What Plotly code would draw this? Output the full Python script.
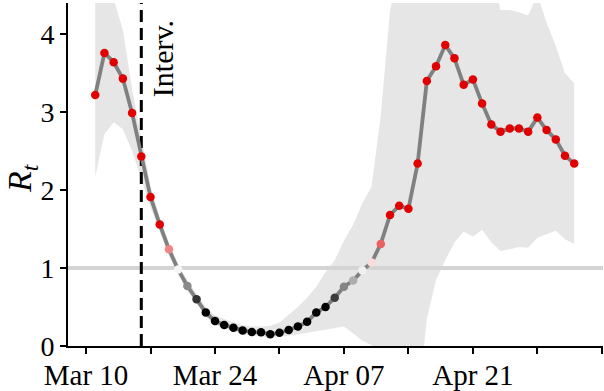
import plotly.graph_objects as go
import pandas as pd

dates = pd.date_range("2020-03-11", "2020-05-02", freq="D")

rt = [3.22, 3.76, 3.64, 3.43, 2.99, 2.43, 1.91, 1.56, 1.24, 0.98,
      0.77, 0.60, 0.43, 0.32, 0.27, 0.235, 0.20, 0.18, 0.175, 0.15,
      0.17, 0.205, 0.25, 0.31, 0.43, 0.50, 0.62, 0.76, 0.84, 0.97,
      1.07, 1.31, 1.68, 1.80, 1.76, 2.34, 3.40, 3.59, 3.86, 3.69,
      3.35, 3.42, 3.11, 2.84, 2.75, 2.79, 2.79, 2.75, 2.93, 2.77,
      2.65, 2.44, 2.34]

rt_upper = [4.8, 5.0, 4.45, 4.05, 3.3, 2.65, 2.05, 1.65, 1.32, 1.05,
            0.84, 0.67, 0.50, 0.39, 0.34, 0.30, 0.27, 0.25, 0.25, 0.26,
            0.30, 0.40, 0.50, 0.62, 0.76, 0.95, 1.10, 1.35, 1.56, 1.83,
            2.05, 2.96, 4.3, 4.8, 4.8, 4.8, 4.8, 4.8, 4.8, 4.8,
            4.8, 4.8, 4.8, 4.8, 4.31, 4.31, 4.28, 4.24, 4.5, 4.15,
            3.85, 3.5, 3.37]

rt_lower = [2.17, 2.72, 2.87, 2.78, 2.5, 2.15, 1.78, 1.46, 1.16, 0.92,
            0.71, 0.54, 0.38, 0.27, 0.22, 0.19, 0.15, 0.13, 0.12, 0.11,
            0.12, 0.13, 0.15, 0.17, 0.19, 0.21, 0.23, 0.25, 0.16, 0.07,
            0.01, -0.2, -0.4, -0.6, -0.7, -0.8, 0.35, 0.85, 1.1, 1.33,
            1.47, 1.40, 1.49, 1.33, 1.22, 1.24, 1.27, 1.26, 1.39, 1.44,
            1.48, 1.37, 1.31]

intervention_date = "2020-03-16"
intervention_label = "Interv."

label_dates = ["2020-03-10", "2020-03-24", "2020-04-07", "2020-04-21"]
label_texts = ["Mar 10", "Mar 24", "Apr 07", "Apr 21"]
minor_tick_dates = pd.date_range("2020-03-10", "2020-05-05", freq="7D")

x_range = ["2020-03-08 01:00", "2020-05-05 03:00"]
y_range = [0, 4.4]
y_ticks = [0, 1, 2, 3, 4]

SERIF = "Liberation Serif, Times New Roman, serif"

fig = go.Figure()

# credible interval band
fig.add_trace(go.Scatter(x=dates, y=rt_lower, mode="lines", line=dict(width=0),
                         hoverinfo="skip", showlegend=False))
fig.add_trace(go.Scatter(x=dates, y=rt_upper, mode="lines", line=dict(width=0),
                         fill="tonexty", fillcolor="#e6e6e6",
                         hoverinfo="skip", showlegend=False))

# reference line at R=1
fig.add_trace(go.Scatter(x=x_range, y=[1, 1], mode="lines",
                         line=dict(color="#d4d4d4", width=4),
                         hoverinfo="skip", showlegend=False))

# intervention line
fig.add_trace(go.Scatter(x=[intervention_date, intervention_date], y=y_range,
                         mode="lines",
                         line=dict(color="black", width=3, dash="12px,6px"),
                         hoverinfo="skip", showlegend=False))

# Rt line
fig.add_trace(go.Scatter(x=dates, y=rt, mode="lines",
                         line=dict(color="#808080", width=3.8),
                         showlegend=False))

# Rt points colored by value
fig.add_trace(go.Scatter(x=dates, y=rt, mode="markers",
                         marker=dict(size=8.5, color=rt, cmin=0.5, cmax=1.5,
                                     colorscale=[[0, "#000000"], [0.5, "#ffffff"], [1, "#e00000"]],
                                     line=dict(width=0)),
                         showlegend=False))

fig.add_annotation(x="2020-03-18 08:00", y=3.69, text=intervention_label,
                   textangle=-90, showarrow=False, xanchor="center", yanchor="middle",
                   font=dict(family=SERIF, size=30, color="black"))

fig.add_annotation(xref="paper", yref="paper", x=(22 - 68) / 535, y=(346 - 178) / 343,
                   text="<i>R</i><sub><i>t</i></sub>", textangle=-90, showarrow=False,
                   xanchor="center", yanchor="middle",
                   font=dict(family=SERIF, size=34, color="black"))

axis_common = dict(showgrid=False, zeroline=False, showline=True, linecolor="black",
                   linewidth=1.8, ticks="outside", ticklen=6, tickwidth=1.6,
                   tickcolor="black")

fig.update_layout(
    width=604, height=391,
    margin=dict(l=68, r=1, t=3, b=45),
    plot_bgcolor="white", paper_bgcolor="white",
    font=dict(family=SERIF, size=28, color="black"),
    xaxis=dict(range=x_range, tickvals=label_dates, ticktext=label_texts,
               ticklabelstandoff=-4, tickfont=dict(size=29),
               minor=dict(tickvals=minor_tick_dates, ticks="outside", ticklen=6,
                          tickwidth=1.6, tickcolor="black", showgrid=False),
               **axis_common),
    yaxis=dict(range=y_range, tickvals=y_ticks, tickfont=dict(size=28), **axis_common),
)

fig.write_html("out.html", config={"displayModeBar": False},
               post_script="document.body.style.margin='0';")
